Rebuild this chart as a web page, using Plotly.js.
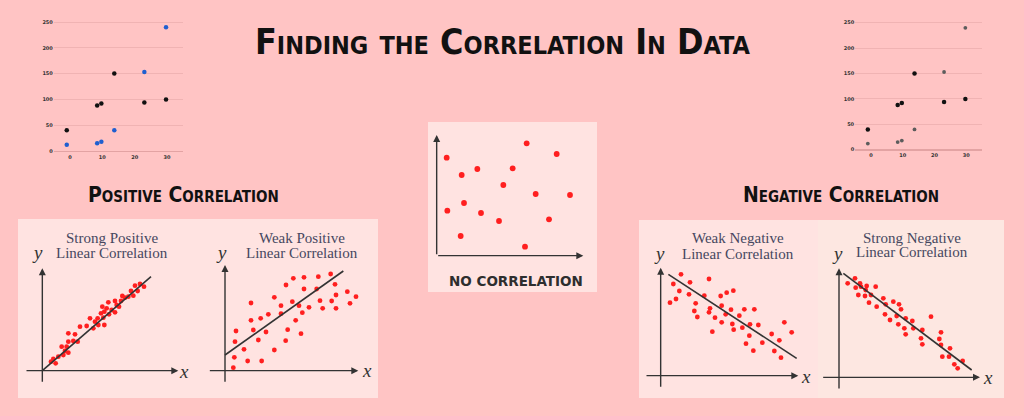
<!DOCTYPE html>
<html><head><meta charset="utf-8">
<script src="https://cdn.plot.ly/plotly-3.0.1.min.js"></script>
<style>html,body{margin:0;padding:0;background:#ffc4c4;}#chart{width:1024px;height:416px;}</style>
</head><body><div id="chart"></div>
<script>
// ---------- DATA ----------
// small example scatter (top corners)
const miniX      = [-1, 8.4, 9.7, 13.7, 23, 29.7];
const miniBlack  = [40, 88, 92, 150, 94, 100];
const miniSecond = [12, 15, 18, 40, 153, 240];
const miniYTicks = [0, 50, 100, 150, 200, 250];
const miniXTicks = [0, 10, 20, 30];

// Strong positive linear correlation
const spX = [29.3,30.5,27.8,28.6,26.6,27.3,25.8,24.8,24.0,23.6,21.8,19.8,18.0,19.3,20.8,21.8,20.0,18.6,17.6,16.6,18.3,15.8,16.8,18.6,15.3,13.3,11.3,9.8,7.8,10.6,9.3,7.8,5.8,7.3,7.8,6.3,4.8,3.3,2.6,4.0,6.8,23.0,22.3,14.3];
const spY = [26.0,25.2,25.5,23.9,23.9,22.5,22.2,21.9,22.4,20.9,20.9,20.5,19.2,18.7,18.2,17.5,16.9,17.7,17.2,15.7,15.9,14.7,13.7,13.7,12.7,13.4,13.2,10.9,11.2,8.7,8.9,8.7,7.2,7.2,5.4,4.7,4.2,3.5,2.7,2.2,5.9,19.2,19.7,15.7];
const spLineX = [0, 32.6], spLineY = [0, 28.2];

// Weak positive linear correlation
const wpX = [20.5,23.7,28.0,31.7,18.3,23.7,27.5,33.0,14.8,7.8,16.8,20.2,22.2,23.2,25.2,28.5,29.3,32.0,33.3,33.3,36.7,39.3,37.5,16.8,13.0,10.7,7.8,21.2,3.3,8.5,12.3,18.8,22.8,3.0,10.0,18.2,5.7,14.8,2.8,6.8,11.0,2.5];
const wpY = [27.7,28.0,28.2,29.0,25.7,24.5,24.5,25.9,22.0,20.3,19.5,20.7,19.5,17.4,19.0,21.0,18.7,20.9,22.7,18.7,23.7,22.2,20.2,17.1,16.9,15.7,15.1,15.1,11.9,12.2,11.6,12.3,11.1,8.7,9.2,9.0,6.4,6.2,4.0,2.9,2.9,0.9];
const wpLineX = [0, 35.5], wpLineY = [4.7, 29.9];

// No correlation
const ncX = [3.0,7.5,12.2,22.8,27.0,36.0,20.0,29.7,40.0,3.2,8.2,13.3,18.7,33.7,7.2,26.5];
const ncY = [29.4,24.2,26.0,26.2,33.7,30.5,21.2,18.5,18.2,13.5,15.8,12.8,10.4,10.9,5.9,2.7];

// Weak negative linear correlation
const wnX = [6.1,3.8,8.8,14.5,5.6,8.5,13.1,4.6,2.8,10.5,10.1,11.0,18.0,19.8,21.8,14.8,14.5,16.3,18.3,19.5,21.1,18.3,15.5,21.5,21.9,23.6,25.1,28.1,24.5,26.8,29.3,26.6,25.6,27.8,30.5,33.3,37.1,39.3,35.6,34.1,36.1];
const wnY = [30.4,27.5,28.0,29.0,25.4,24.4,24.0,23.0,21.9,21.7,19.4,17.6,23.9,24.9,25.5,20.2,19.0,17.4,21.0,18.4,19.8,16.0,13.2,15.5,13.8,18.0,19.9,19.9,14.4,15.4,15.2,12.0,9.6,7.5,9.9,12.5,16.0,13.0,10.6,7.4,5.4];
const wnLineX = [2.3, 40.8], wnLineY = [30.4, 5.2];

// Strong negative linear correlation
const snX = [2.6,4.8,6.3,5.0,6.6,8.3,11.0,8.0,5.8,7.8,9.6,9.0,11.3,13.3,14.0,16.3,18.0,18.6,13.8,15.3,17.3,17.8,20.0,22.0,19.6,22.3,20.0,25.0,27.6,24.6,25.0,30.6,30.1,30.6,33.3,31.0,33.0,37.1,34.6,35.6];
const snY = [28.2,29.7,28.2,26.9,27.2,27.4,27.2,26.2,24.7,24.4,24.7,22.4,21.2,23.7,21.9,22.7,21.9,20.4,18.9,17.2,18.4,15.9,17.7,16.9,14.7,14.7,12.9,14.2,18.2,11.7,9.9,13.5,11.5,9.7,8.7,6.2,6.2,4.9,3.9,2.7];
const snLineX = [1.3, 39.8], snLineY = [31.2, 2.2];

// ---------- LAYOUT HELPERS ----------
const W = 1024, H = 416;
const fx = p => p / W;
const fy = p => 1 - p / H;
const S = 10 / 3; // px per unit in sketch panels

function sketchAxes(n, ox, oy, xr, yr) {
  return [
    {domain: [fx(ox + xr[0] * S), fx(ox + xr[1] * S)], range: xr, visible: false, fixedrange: true, anchor: 'y' + n},
    {domain: [fy(oy - yr[0] * S), fy(oy - yr[1] * S)], range: yr, visible: false, fixedrange: true, anchor: 'x' + n}
  ];
}

const RED = '#ff1f1f';
const INK = '#333333';
const TITLEC = '#46475f';

const traces = [];
function dots(x, y, n, size) {
  traces.push({x, y, type: 'scatter', mode: 'markers', xaxis: 'x' + n, yaxis: 'y' + n,
    marker: {color: RED, size: size, line: {width: 0}}, cliponaxis: false, hoverinfo: 'skip'});
}
function regLine(x, y, n) {
  traces.push({x, y, type: 'scatter', mode: 'lines', xaxis: 'x' + n, yaxis: 'y' + n,
    line: {color: INK, width: 1.6}, cliponaxis: false, hoverinfo: 'skip'});
}

// mini charts
traces.push({x: miniX, y: miniBlack, type: 'scatter', mode: 'markers', xaxis: 'x', yaxis: 'y',
  marker: {color: '#111', size: 4.5}, cliponaxis: false});
traces.push({x: miniX, y: miniSecond, type: 'scatter', mode: 'markers', xaxis: 'x', yaxis: 'y',
  marker: {color: '#1f5fd0', size: 4.5}, cliponaxis: false});
traces.push({x: miniX, y: miniBlack, type: 'scatter', mode: 'markers', xaxis: 'x2', yaxis: 'y2',
  marker: {color: '#111', size: 4.5}, cliponaxis: false});
traces.push({x: miniX, y: miniSecond, type: 'scatter', mode: 'markers', xaxis: 'x2', yaxis: 'y2',
  marker: {color: '#5c5c5c', size: 3.8}, cliponaxis: false});

dots(spX, spY, 3, 4.8); regLine(spLineX, spLineY, 3);
dots(wpX, wpY, 4, 4.8); regLine(wpLineX, wpLineY, 4);
dots(ncX, ncY, 5, 5.8);
dots(wnX, wnY, 6, 4.8); regLine(wnLineX, wnLineY, 6);
dots(snX, snY, 7, 4.8); regLine(snLineX, snLineY, 7);

function miniAxes(x0px, xunit, y0px, yunit, zw) {
  const xr = [-5, 35], yr = [-3, 260];
  const tickf = {family: 'DejaVu Sans', size: 5, color: '#333', weight: 700};
  return [
    {domain: [fx(x0px + xr[0] * xunit), fx(x0px + xr[1] * xunit)], range: xr, anchor: 'y' + zw.n,
     tickvals: miniXTicks, showgrid: false, zeroline: false, showline: false, ticks: '',
     tickfont: tickf, fixedrange: true},
    {domain: [fy(y0px - yr[0] * yunit), fy(y0px - yr[1] * yunit)], range: yr, anchor: 'x' + zw.n,
     tickvals: miniYTicks, showgrid: true, gridcolor: '#f0b3b3', gridwidth: 1,
     zeroline: true, zerolinecolor: '#e3a3a3', zerolinewidth: zw.w, ticks: '',
     tickfont: tickf, fixedrange: true}
  ];
}
const m1 = miniAxes(70, 3.233, 151, 0.516, {n: '', w: 1});
const m2 = miniAxes(871, 3.177, 149.7, 0.508, {n: '2', w: 2});
m1[0].anchor = 'y'; m1[1].anchor = 'x';

const ax3 = sketchAxes(3, 42.33, 370.67, [-6, 44], [-5, 42]);
const ax4 = sketchAxes(4, 225, 370.67, [-6, 44], [-5, 42]);
const ax5 = sketchAxes(5, 436.67, 255.67, [-2, 46], [-2, 40]);
const ax6 = sketchAxes(6, 660.67, 375.67, [-6, 46], [-5, 43]);
const ax7 = sketchAxes(7, 839, 377.33, [-6, 47], [-5, 44]);

// panel axis arrows & labels
const annotations = [];
function arrow(n, x, y, axv, ayv) {
  annotations.push({xref: 'x' + n, yref: 'y' + n, axref: 'x' + n, ayref: 'y' + n,
    x: x, y: y, ax: axv, ay: ayv, text: '', showarrow: true, arrowhead: 2, arrowsize: 1,
    arrowwidth: 1.4, arrowcolor: INK, standoff: 0, startstandoff: 0});
}
function txt(ref, x, y, t, font, extra) {
  annotations.push(Object.assign({xref: ref[0], yref: ref[1], x: x, y: y, text: t, showarrow: false,
    font: font, xanchor: 'center', yanchor: 'middle'}, extra || {}));
}
const serif = {family: 'Liberation Serif', size: 15, color: TITLEC};
const ital = {family: 'Liberation Serif', size: 19, color: INK, style: 'italic'};

function sketchFrame(n, xa, ya, yl, xl, tx, t1, t1y, t2, t2y) {
  arrow(n, xa[1], 0, xa[0], 0);
  arrow(n, 0, ya[1], 0, ya[0]);
  const r = ['x' + n, 'y' + n];
  txt(r, yl[0], yl[1], 'y', ital);
  txt(r, xl[0], xl[1], 'x', ital);
  if (t1) { txt(r, tx, t1y, t1, serif); txt(r, tx, t2y, t2, serif); }
}
sketchFrame(3, [-5.2, 40.8], [-3.8, 30.7], [-1.4, 35.4], [42.6, -0.3], 20.8, 'Strong Positive', 39.7, 'Linear Correlation', 35.2);
sketchFrame(4, [-5.0, 40.0], [-3.8, 31.7], [-1.2, 35.6], [42.6, 0.2], 23.0, 'Weak Positive', 39.7, 'Linear Correlation', 35.4);
sketchFrame(6, [-4.7, 41.3], [-3.8, 32.4], [-0.5, 36.6], [43.6, -0.1], 23.3, 'Weak Negative', 41.2, 'Linear Correlation', 36.5);
sketchFrame(7, [-5.2, 42.3], [-3.8, 32.7], [-0.4, 37.0], [44.8, 0.0], 21.8, 'Strong Negative', 41.9, 'Linear Correlation', 37.5);
arrow(5, 44, 0, 0, 0);
arrow(5, 0, 36.2, 0, 0);

const paper = ['paper', 'paper'];
txt(paper, fx(516), fy(281), 'NO CORRELATION', {family: 'DejaVu Sans', size: 13.5, weight: 700, color: '#2e2e2e'});
const head = (s, fam) => ({family: fam, size: s, weight: 700, variant: 'small-caps', color: '#111'});
txt(paper, fx(502), fy(42), 'Finding the Correlation In Data', head(35.5, 'DejaVu Sans Condensed'));
txt(paper, fx(183), fy(195), 'Positive Correlation', head(21, 'DejaVu Sans Condensed'));
txt(paper, fx(841), fy(195), 'Negative Correlation', head(21, 'DejaVu Sans Condensed'));

// panel backgrounds
function rect(x0, y0, x1, y1, c) {
  return {type: 'rect', xref: 'paper', yref: 'paper', x0: fx(x0), x1: fx(x1), y0: fy(y1), y1: fy(y0),
    fillcolor: c, line: {width: 0}, layer: 'below'};
}
const shapes = [
  rect(18, 219, 378, 398, '#ffe3e1'),
  rect(428, 122, 597, 292, '#ffe3e1'),
  rect(639, 220, 818, 398, '#ffe3e1'),
  rect(818, 220, 1004, 398, '#fde7e1')
];

const layout = {
  width: W, height: H, margin: {l: 0, r: 0, t: 0, b: 0},
  paper_bgcolor: '#ffc4c4', plot_bgcolor: 'rgba(0,0,0,0)',
  showlegend: false, hovermode: false,
  xaxis: m1[0], yaxis: m1[1], xaxis2: m2[0], yaxis2: m2[1],
  xaxis3: ax3[0], yaxis3: ax3[1], xaxis4: ax4[0], yaxis4: ax4[1],
  xaxis5: ax5[0], yaxis5: ax5[1], xaxis6: ax6[0], yaxis6: ax6[1],
  xaxis7: ax7[0], yaxis7: ax7[1],
  annotations: annotations, shapes: shapes
};
Plotly.newPlot('chart', traces, layout, {displayModeBar: false, staticPlot: true});
</script>
</body></html>
